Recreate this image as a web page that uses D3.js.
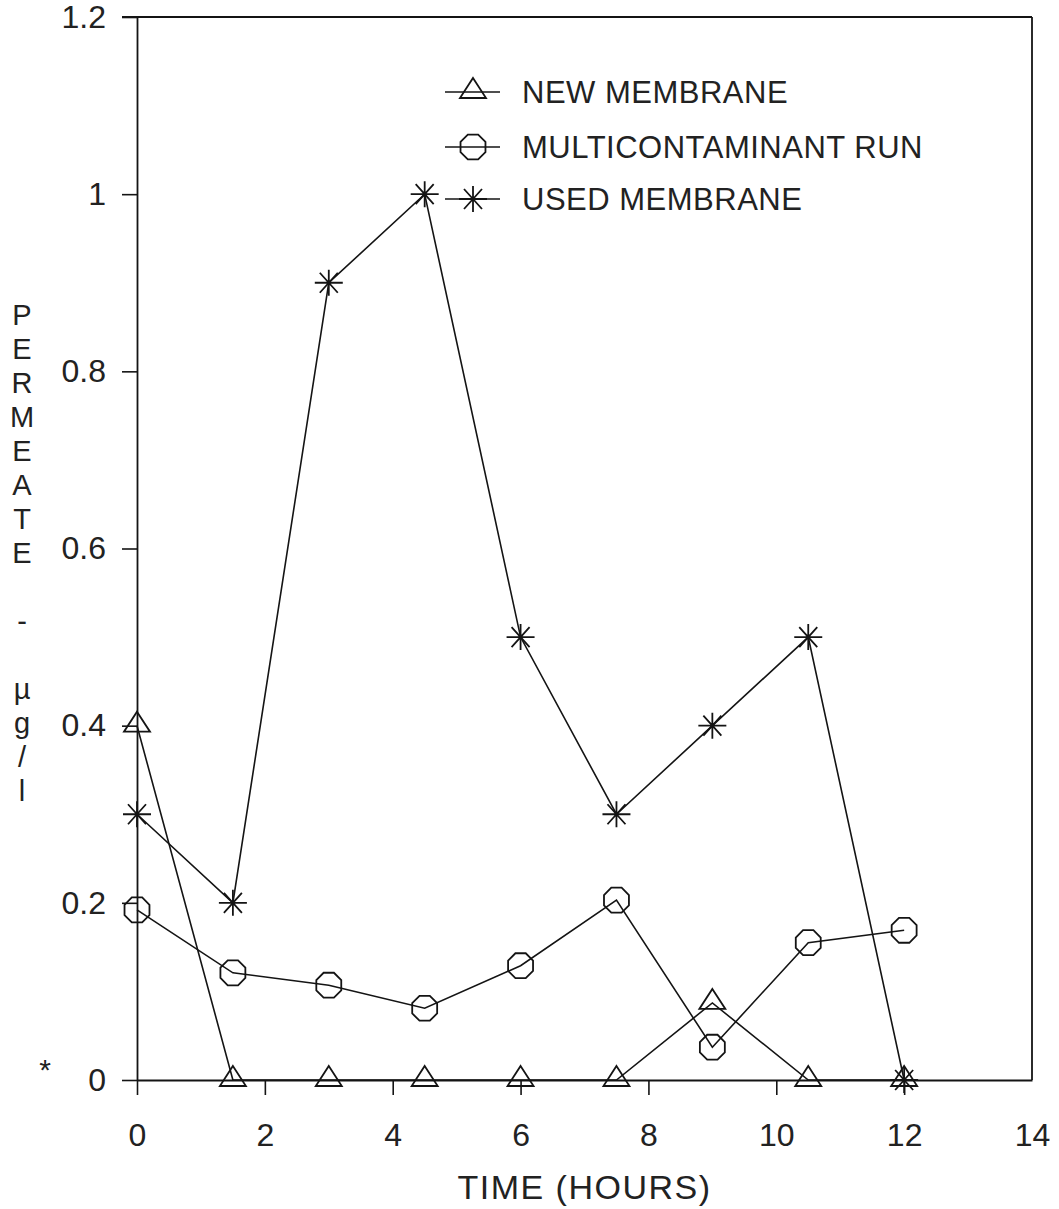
<!DOCTYPE html>
<html>
<head>
<meta charset="utf-8">
<script src="https://cdn.jsdelivr.net/npm/d3@7/dist/d3.min.js"></script>
<style>
  html, body { margin: 0; padding: 0; background: #fff; }
  svg { display: block; }
  text { font-family: "Liberation Sans", Arial, sans-serif; fill: #222; }
</style>
</head>
<body>
<svg id="chart" width="1059" height="1209"></svg>
<script>
// Permeate concentration over time for three membrane runs
const hours = [0, 1.5, 3, 4.5, 6, 7.5, 9, 10.5, 12];
const newMembrane = [0.4, 0, 0, 0, 0, 0, 0.087, 0, 0];
const multicontaminantRun = [0.192, 0.121, 0.107, 0.081, 0.129, 0.203, 0.037, 0.155, 0.169];
const usedMembrane = [0.3, 0.2, 0.9, 1.0, 0.5, 0.3, 0.4, 0.5, 0];

const xTickValues = [0, 2, 4, 6, 8, 10, 12, 14];
const yTickValues = [0, 0.2, 0.4, 0.6, 0.8, 1.0, 1.2];
const seriesNames = ["NEW MEMBRANE", "MULTICONTAMINANT RUN", "USED MEMBRANE"];
const yLabelText = "PERMEATE - µg/l";
const xLabelText = "TIME (HOURS)";

const ink = "#141414";
const textInk = "#222";
const svg = d3.select("#chart");

const x = d3.scaleLinear().domain([0, 14]).range([137, 1032]);
const y = d3.scaleLinear().domain([0, 1.2]).range([1080, 17]);

// ---- axes ----
const fmt = d => String(+d.toFixed(1));

const yAxis = svg.append("g")
  .attr("transform", `translate(${x(0)},0)`)
  .call(d3.axisLeft(y).tickValues(yTickValues).tickSize(15).tickSizeOuter(0).tickPadding(16).tickFormat(fmt));

const xAxis = svg.append("g")
  .attr("transform", `translate(0,${y(0)})`)
  .call(d3.axisBottom(x).tickValues(xTickValues).tickSize(15).tickSizeOuter(0).tickPadding(28).tickFormat(fmt));

[yAxis, xAxis].forEach(g => {
  g.attr("font-family", null).attr("font-size", null);
  g.select(".domain").attr("stroke", ink).attr("stroke-width", 1.8);
  g.selectAll(".tick line").attr("stroke", ink).attr("stroke-width", 1.6);
  g.selectAll(".tick text").attr("fill", textInk).style("font-size", "32px");
});
// no tick mark below the last x value
xAxis.selectAll(".tick").filter(d => d === 14).select("line").remove();
yAxis.selectAll(".tick text").attr("x", -31);

// frame: top and right edges
svg.append("line")
  .attr("x1", x(0) - 15).attr("x2", x(14))
  .attr("y1", y(1.2)).attr("y2", y(1.2))
  .attr("stroke", ink).attr("stroke-width", 1.8);
svg.append("line")
  .attr("x1", x(14)).attr("x2", x(14))
  .attr("y1", y(1.2)).attr("y2", y(0))
  .attr("stroke", ink).attr("stroke-width", 1.8);

// ---- axis titles ----
// y title is stacked one character per line
const yLetters = Array.from(yLabelText);
svg.append("g").selectAll("text")
  .data(yLetters)
  .join("text")
  .attr("x", 22)
  .attr("y", (d, i) => 314 + i * 34.0 + 11)
  .attr("text-anchor", "middle")
  .style("font-size", "29px")
  .text(d => d);

svg.append("text")
  .attr("x", (x(0) + x(14)) / 2)
  .attr("y", 1199)
  .attr("text-anchor", "middle")
  .style("font-size", "34px")
  .style("letter-spacing", "1.5px")
  .text(xLabelText);

// footnote marker beside the zero label
svg.append("text")
  .attr("x", 45).attr("y", 1080)
  .attr("text-anchor", "middle")
  .style("font-size", "30px")
  .text("*");

// ---- marker shapes ----
function triangle(g) {
  g.append("path").attr("d", "M0,-14 L13,6 L-13,6 Z");
}
function octagon(g) {
  const r = 13.5;
  const pts = d3.range(8).map(k => {
    const a = Math.PI / 8 + k * Math.PI / 4;
    return [r * Math.cos(a), r * Math.sin(a)];
  });
  g.append("path").attr("d", "M" + pts.map(p => p.join(",")).join("L") + "Z");
}
function asterisk(g) {
  g.append("path").attr("d",
    "M-14,0 L14,0 M0,-13 L0,13 M-9,-10 L9,10 M-9,10 L9,-10");
}

const series = [
  { name: seriesNames[0], values: newMembrane, marker: triangle },
  { name: seriesNames[1], values: multicontaminantRun, marker: octagon },
  { name: seriesNames[2], values: usedMembrane, marker: asterisk }
];

const line = d3.line().x(d => x(d[0])).y(d => y(d[1]));

series.forEach(s => {
  const pts = hours.map((h, i) => [h, s.values[i]]);
  svg.append("path")
    .attr("d", line(pts))
    .attr("fill", "none")
    .attr("stroke", ink)
    .attr("stroke-width", 1.6);
  svg.append("g").selectAll("g")
    .data(pts)
    .join("g")
    .attr("transform", d => `translate(${x(d[0])},${y(d[1])})`)
    .attr("fill", "none")
    .attr("stroke", ink)
    .attr("stroke-width", 1.8)
    .each(function () { s.marker(d3.select(this)); });
});

// ---- legend ----
const legendRows = [92, 147, 199];
series.forEach((s, i) => {
  const g = svg.append("g").attr("transform", `translate(0,${legendRows[i]})`);
  g.append("line")
    .attr("x1", 445).attr("x2", 500).attr("y1", 0).attr("y2", 0)
    .attr("stroke", ink).attr("stroke-width", 1.6);
  const m = g.append("g").attr("transform", "translate(473,0)")
    .attr("fill", "none").attr("stroke", ink).attr("stroke-width", 1.8);
  s.marker(m);
  g.append("text")
    .attr("x", 522).attr("y", 11)
    .style("font-size", "31px")
    .style("letter-spacing", "0.5px")
    .text(s.name);
});
</script>
</body>
</html>
